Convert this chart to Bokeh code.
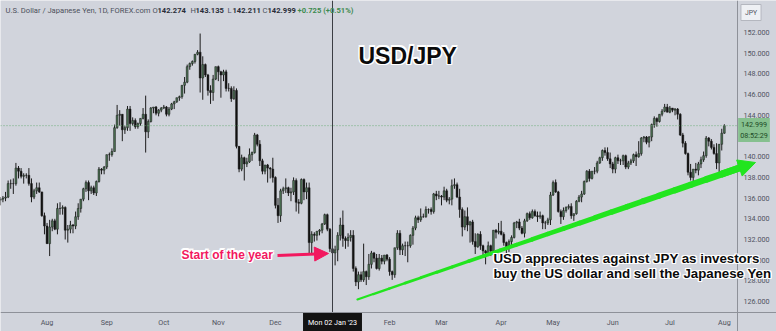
import pandas as pd
from bokeh.plotting import figure
from bokeh.models import (Range1d, FixedTicker, NumeralTickFormatter, Label,
                          Arrow, NormalHead, ColumnDataSource)
from bokeh.embed import file_html
from bokeh.resources import INLINE

# ---------------- data (daily bars, USD/JPY) ----------------
dates = pd.bdate_range("2022-07-06", "2023-08-01")

opens = [
    # Jul 2022
    135.8, 135.9, 136.0, 136.1, 137.4, 137.4, 137.4, 138.9, 138.6, 138.1, 138.2, 138.2, 137.4, 136.1, 136.7, 137.0, 136.6, 134.3,
    # Aug 2022
    133.3, 131.6, 133.2, 133.8, 133.0, 135.0, 135.0, 135.1, 132.9, 133.0, 133.4, 133.3, 134.2, 135.0, 135.9, 136.9, 137.5, 136.7, 137.0, 136.5, 137.6, 138.8, 138.7,
    # Sep 2022
    139.0, 140.2, 140.2, 140.5, 142.8, 144.0, 144.1, 142.6, 142.8, 144.6, 143.2, 143.5, 142.9, 143.2, 143.7, 144.1, 142.4, 143.4, 144.7, 144.8, 144.2, 144.5,
    # Oct 2022
    144.7, 144.8, 144.1, 144.6, 145.1, 145.3, 145.7, 145.8, 146.9, 147.2, 148.7, 149.0, 149.2, 149.9, 150.1, 147.6, 148.9, 147.9, 146.4, 146.2, 147.5,
    # Nov 2022
    148.7, 148.2, 147.9, 148.2, 146.6, 146.6, 145.6, 146.4, 141.0, 138.8, 139.9, 139.3, 139.5, 140.2, 140.4, 142.1, 141.2, 139.6, 138.6, 139.2, 138.9, 138.8,
    # Dec 2022
    138.0, 135.3, 134.3, 136.7, 136.9, 137.0, 136.5, 136.6, 137.7, 135.6, 135.5, 137.8, 136.6, 137.0, 131.7, 132.5, 132.4, 132.8, 132.9, 133.5, 134.4, 133.0,
    # Jan 2023
    131.1, 130.7, 131.0, 132.4, 133.4, 132.1, 131.9, 132.2, 132.4, 129.2, 127.9, 128.6, 128.1, 128.9, 128.4, 129.6, 130.7, 130.2, 129.2, 130.2, 129.9, 130.5,
    # Feb 2023
    130.1, 128.9, 128.6, 131.2, 132.6, 131.0, 131.4, 131.4, 131.4, 132.4, 133.1, 134.1, 133.9, 134.2, 134.2, 134.9, 134.9, 134.7, 136.4, 136.2,
    # Mar 2023
    136.2, 136.1, 136.7, 135.8, 135.9, 137.2, 137.3, 136.1, 134.9, 133.2, 134.2, 133.4, 133.7, 131.8, 131.3, 132.5, 131.4, 130.9, 130.7, 131.4, 130.9, 132.9, 132.7,
    # Apr 2023
    132.8, 132.5, 131.7, 131.3, 131.8, 132.2, 133.6, 133.7, 133.1, 132.6, 133.8, 134.5, 134.1, 134.7, 134.3, 134.2, 134.3, 133.6, 133.6, 133.9,
    # May 2023
    136.3, 137.5, 136.6, 134.7, 134.2, 134.8, 135.1, 135.2, 134.3, 134.5, 135.7, 136.1, 136.4, 137.6, 138.6, 137.9, 138.6, 138.6, 139.4, 139.9, 140.6, 140.4, 139.8,
    # Jun 2023
    139.3, 138.8, 139.9, 139.6, 139.6, 140.1, 139.0, 139.4, 139.6, 140.2, 140.0, 140.3, 141.8, 141.9, 141.4, 141.9, 143.1, 143.7, 143.4, 144.1, 144.4, 144.8,
    # Jul 2023
    144.3, 144.7, 144.5, 144.6, 144.1, 142.1, 141.3, 140.3, 138.5, 138.0, 138.8, 138.7, 139.3, 139.7, 140.1, 141.8, 141.5, 140.9, 140.3, 139.4, 141.2,
    # Aug 2023
    142.274,
]

highs = [
    136.1, 136.2, 136.6, 137.7, 137.8, 137.9, 139.4, 139.1, 138.9, 138.4, 138.4, 138.9, 137.9, 136.9, 137.5, 137.5, 136.6, 134.6,
    133.6, 133.9, 134.0, 134.0, 135.5, 135.6, 135.3, 135.2, 133.4, 133.8, 133.5, 134.7, 135.5, 135.9, 137.0, 137.7, 137.7, 137.2, 137.2, 137.7, 139.0, 138.9, 139.1,
    140.2, 140.4, 140.8, 143.1, 145.0, 144.5, 144.1, 143.0, 144.9, 144.9, 143.8, 143.7, 143.3, 143.7, 144.7, 145.9, 143.6, 144.8, 144.8, 144.9, 144.6, 144.8,
    145.0, 144.9, 144.8, 145.2, 145.4, 145.7, 145.9, 146.9, 147.7, 148.9, 149.1, 149.3, 149.9, 150.3, 151.9, 149.7, 149.0, 148.0, 146.9, 147.9, 148.7,
    148.8, 148.3, 148.4, 148.4, 147.1, 146.8, 146.8, 146.6, 141.0, 140.2, 140.0, 139.9, 140.8, 140.5, 142.3, 142.2, 141.6, 139.8, 139.2, 139.3, 139.0, 139.9,
    138.1, 136.0, 136.9, 137.1, 137.9, 137.1, 137.0, 138.0, 137.9, 135.9, 137.9, 137.9, 137.5, 137.5, 132.8, 132.7, 132.8, 133.0, 133.6, 134.5, 134.5, 133.1,
    131.4, 131.4, 132.7, 134.1, 134.8, 132.3, 132.6, 132.9, 132.9, 129.4, 128.9, 128.9, 131.6, 129.0, 130.6, 130.9, 130.8, 130.6, 130.6, 130.5, 130.5, 130.6,
    130.3, 129.0, 131.2, 132.9, 132.9, 131.6, 131.8, 131.8, 132.5, 133.3, 134.3, 134.3, 135.0, 134.5, 135.2, 135.0, 135.1, 136.5, 136.7, 136.7,
    136.3, 137.1, 136.9, 136.1, 137.8, 137.9, 137.5, 136.9, 135.1, 134.8, 135.1, 133.8, 133.9, 132.6, 132.6, 132.8, 131.5, 131.0, 131.8, 131.5, 132.9, 133.0, 133.6,
    133.8, 132.7, 131.8, 132.0, 132.4, 133.7, 133.8, 134.0, 133.3, 134.0, 134.6, 134.7, 134.9, 134.9, 134.7, 134.7, 134.4, 133.8, 134.1, 136.6,
    137.7, 137.8, 136.7, 134.9, 135.1, 135.2, 135.4, 135.5, 134.5, 135.8, 136.3, 136.7, 137.7, 138.7, 138.8, 138.6, 139.0, 139.6, 140.0, 140.7, 140.9, 140.9, 140.4,
    139.5, 140.0, 140.2, 139.8, 140.2, 140.2, 139.6, 139.8, 140.3, 140.5, 141.5, 141.9, 142.0, 142.0, 142.0, 143.2, 143.9, 143.8, 144.1, 144.6, 145.1, 145.1,
    144.9, 144.7, 144.7, 144.7, 144.2, 142.3, 141.5, 140.4, 139.3, 138.8, 139.4, 139.5, 140.0, 140.5, 142.0, 141.9, 141.7, 141.2, 141.3, 141.2, 142.7,
    143.135,
]

lows = [
    135.3, 135.6, 135.7, 136.0, 136.9, 136.4, 137.2, 137.9, 137.9, 137.4, 137.9, 137.2, 135.6, 135.9, 136.4, 136.5, 134.2, 132.5,
    131.6, 130.4, 132.8, 132.9, 132.5, 134.4, 134.4, 132.0, 131.7, 132.6, 132.6, 133.0, 133.9, 134.6, 135.7, 136.6, 135.8, 136.4, 136.3, 136.2, 137.5, 138.3, 138.3,
    138.8, 139.6, 140.0, 140.5, 142.7, 143.0, 141.5, 142.2, 142.5, 142.5, 143.0, 142.7, 142.7, 143.0, 143.6, 140.4, 141.8, 143.3, 144.2, 144.0, 143.9, 144.3,
    144.6, 143.9, 143.9, 144.5, 144.6, 145.2, 145.4, 145.6, 146.1, 147.1, 148.4, 148.8, 149.0, 149.8, 146.2, 145.5, 147.7, 145.9, 145.1, 145.4, 147.4,
    147.3, 145.7, 147.3, 146.3, 146.3, 145.3, 145.5, 140.8, 138.5, 138.6, 137.7, 139.0, 139.4, 139.6, 140.3, 141.0, 139.1, 138.3, 138.3, 137.5, 137.9, 137.5,
    135.0, 133.6, 133.7, 136.4, 136.5, 136.2, 135.7, 136.3, 134.7, 134.5, 135.4, 135.8, 135.9, 130.6, 130.6, 131.8, 131.9, 132.4, 132.6, 133.4, 132.8, 130.8,
    130.1, 129.5, 129.9, 131.9, 131.3, 131.1, 131.3, 131.8, 128.9, 127.5, 127.2, 127.9, 127.9, 127.6, 128.1, 129.2, 129.8, 129.1, 129.0, 129.6, 129.6, 129.9,
    128.5, 128.1, 128.3, 131.0, 130.5, 130.5, 130.4, 129.8, 131.2, 131.5, 132.9, 133.6, 133.7, 134.1, 134.1, 134.5, 134.4, 134.5, 135.8, 135.9,
    135.3, 135.8, 135.6, 135.4, 135.3, 136.9, 136.0, 134.1, 132.3, 132.9, 132.8, 131.7, 131.5, 130.6, 131.2, 131.0, 130.4, 129.6, 130.4, 130.4, 130.7, 132.1, 132.5,
    132.4, 131.4, 130.6, 130.8, 131.2, 132.1, 133.1, 132.9, 132.5, 132.2, 133.7, 133.9, 134.0, 134.2, 133.7, 134.0, 133.0, 133.0, 133.4, 133.4,
    136.2, 136.5, 134.6, 133.5, 133.9, 134.6, 134.9, 134.0, 133.8, 134.4, 135.6, 135.6, 136.3, 137.5, 137.6, 137.8, 138.3, 138.4, 139.3, 139.6, 140.1, 139.6, 138.9,
    138.4, 138.4, 139.3, 139.2, 139.2, 138.8, 138.8, 139.2, 139.4, 139.1, 139.9, 140.1, 141.4, 141.2, 140.9, 141.5, 142.8, 142.9, 143.3, 143.9, 144.3, 144.3,
    144.2, 144.3, 144.0, 143.6, 142.0, 140.9, 140.2, 138.2, 137.7, 137.2, 138.4, 138.2, 138.9, 139.5, 139.9, 141.0, 140.7, 140.2, 138.8, 138.1, 140.6,
    142.211,
]

closes = [
    135.9, 136.0, 136.1, 137.4, 137.4, 137.4, 138.9, 138.6, 138.1, 138.2, 138.2, 137.4, 136.1, 136.7, 137.0, 136.6, 134.3, 133.3,
    131.6, 133.2, 133.8, 133.0, 135.0, 135.0, 135.1, 132.9, 133.0, 133.4, 133.3, 134.2, 135.0, 135.9, 136.9, 137.5, 136.7, 137.0, 136.5, 137.6, 138.8, 138.7, 139.0,
    140.2, 140.2, 140.5, 142.8, 144.0, 144.1, 142.6, 142.8, 144.6, 143.2, 143.5, 142.9, 143.2, 143.7, 144.1, 142.4, 143.4, 144.7, 144.8, 144.2, 144.5, 144.7,
    144.8, 144.1, 144.6, 145.1, 145.3, 145.7, 145.8, 146.9, 147.2, 148.7, 149.0, 149.2, 149.9, 150.1, 147.6, 148.9, 147.9, 146.4, 146.2, 147.5, 148.7,
    148.2, 147.9, 148.2, 146.6, 146.6, 145.6, 146.4, 141.0, 138.8, 139.9, 139.3, 139.5, 140.2, 140.4, 142.1, 141.2, 139.6, 138.6, 139.2, 138.9, 138.8, 138.0,
    135.3, 134.3, 136.7, 136.9, 137.0, 136.5, 136.6, 137.7, 135.6, 135.5, 137.8, 136.6, 137.0, 131.7, 132.5, 132.4, 132.8, 132.9, 133.5, 134.4, 133.0, 131.1,
    130.7, 131.0, 132.4, 133.4, 132.1, 131.9, 132.2, 132.4, 129.2, 127.9, 128.6, 128.1, 128.9, 128.4, 129.6, 130.7, 130.2, 129.2, 130.2, 129.9, 130.5, 130.1,
    128.9, 128.6, 131.2, 132.6, 131.0, 131.4, 131.4, 131.4, 132.4, 133.1, 134.1, 133.9, 134.2, 134.2, 134.9, 134.9, 134.7, 136.4, 136.2, 136.2,
    136.1, 136.7, 135.8, 135.9, 137.2, 137.3, 136.1, 134.9, 133.2, 134.2, 133.4, 133.7, 131.8, 131.3, 132.5, 131.4, 130.9, 130.7, 131.4, 130.9, 132.9, 132.7, 132.8,
    132.5, 131.7, 131.3, 131.8, 132.2, 133.6, 133.7, 133.1, 132.6, 133.8, 134.5, 134.1, 134.7, 134.3, 134.2, 134.3, 133.6, 133.6, 133.9, 136.3,
    137.5, 136.6, 134.7, 134.2, 134.8, 135.1, 135.2, 134.3, 134.5, 135.7, 136.1, 136.4, 137.6, 138.6, 137.9, 138.6, 138.6, 139.4, 139.9, 140.6, 140.4, 139.8, 139.3,
    138.8, 139.9, 139.6, 139.6, 140.1, 139.0, 139.4, 139.6, 140.2, 140.0, 140.3, 141.8, 141.9, 141.4, 141.9, 143.1, 143.7, 143.4, 144.1, 144.4, 144.8, 144.3,
    144.7, 144.5, 144.6, 144.1, 142.1, 141.3, 140.3, 138.5, 138.0, 138.8, 138.7, 139.3, 139.7, 140.1, 141.8, 141.5, 140.9, 140.3, 139.4, 141.2, 142.274,
    142.999,
]

month_labels = ["Aug", "Sep", "Oct", "Nov", "Dec", "2023", "Feb", "Mar", "Apr", "May", "Jun", "Jul", "Aug"]
price_ticks = [126, 128, 130, 132, 134, 136, 138, 140, 142, 144, 146, 148, 150, 152]

# annotation anchors (bar index, price)
trend_start = (137.6, 126.2)
trend_tip = (291.0, 139.44)

assert len(dates) == len(opens) == len(highs) == len(lows) == len(closes)

# ---------------- layout constants ----------------
BG = "#d1d4dc"
W, H = 776, 331
PANE_W, PANE_H = 737, 312          # chart pane; price/time scales sit beyond it
PX_BAR, PX_PRICE = 2.595, 10.35
jan2 = list(dates).index(pd.Timestamp("2023-01-02"))
x0 = jan2 - 332 / PX_BAR
x1 = x0 + W / PX_BAR
y1 = 152 + 32 / PX_PRICE
y0 = y1 - H / PX_PRICE


def px_x(X):
    return x0 + X / PX_BAR


def px_y(Y):
    return y1 - Y / PX_PRICE


p = figure(width=W, height=H, x_range=Range1d(x0, x1), y_range=Range1d(y0, y1),
           output_backend="svg", toolbar_location=None, y_axis_location="right",
           min_border=0, background_fill_color=BG, border_fill_color=BG)
p.outline_line_color = None
p.xgrid.visible = False
p.ygrid.visible = False

# ---------------- candles ----------------
xs = list(range(len(dates)))
up = [c >= o for o, c in zip(opens, closes)]
src = ColumnDataSource(dict(
    x=xs, high=highs, low=lows,
    top=[max(o, c) for o, c in zip(opens, closes)],
    bottom=[min(o, c) for o, c in zip(opens, closes)],
    color=["#4b7153" if u else "#111111" for u in up],
))
p.segment(x0="x", y0="low", x1="x", y1="high", source=src, line_color="#1c1c1c", line_width=1)
p.vbar(x="x", width=0.72, top="top", bottom="bottom", source=src,
       fill_color="color", line_color="#1c1c1c", line_width=0.5)

# last price dotted line (pane only) & crosshair
p.segment(x0=[px_x(0)], y0=[closes[-1]], x1=[px_x(PANE_W)], y1=[closes[-1]],
          line_color="#6fae7a", line_dash="1 2", line_width=1)
p.segment(x0=[jan2], y0=[px_y(PANE_H)], x1=[jan2], y1=[px_y(0)],
          line_color="#3c3e44", line_width=1)

# ---------------- green trend arrow (tapered) ----------------
N = 24
tx, ty = trend_start
slope = (trend_tip[1] - ty) / (trend_tip[0] - tx)
ex = px_x(738)
ey = ty + slope * (ex - tx)
seg = dict(x0=[], y0=[], x1=[], y1=[], w=[])
for k in range(N):
    a, b = k / N, (k + 1) / N
    seg["x0"].append(tx + (ex - tx) * a)
    seg["y0"].append(ty + (ey - ty) * a)
    seg["x1"].append(tx + (ex - tx) * b)
    seg["y1"].append(ty + (ey - ty) * b)
    seg["w"].append(2.0 + 5.0 * (a + b) / 2)
p.segment(x0="x0", y0="y0", x1="x1", y1="y1", line_width="w", line_color="#22e51e",
          line_cap="round", source=ColumnDataSource(seg))
ax = px_x(720)
ay = ty + slope * (ax - tx)
p.add_layout(Arrow(x_start=ax, y_start=ay, x_end=trend_tip[0], y_end=trend_tip[1],
                   line_color="#22e51e", line_width=7,
                   end=NormalHead(size=17, fill_color="#22e51e", line_color="#22e51e", line_width=1)))

# ---------------- pink arrow ----------------
PINK = "#f2185f"
p.add_layout(Arrow(x_start=px_x(277), y_start=px_y(255), x_end=px_x(328), y_end=px_y(253),
                   line_color=PINK, line_width=3,
                   end=NormalHead(size=14, fill_color=PINK, line_color=PINK, line_width=1)))


def halo(X, Y, text, size, color, font="Liberation Sans", r=1.2):
    for dx, dy in [(-r, 0), (r, 0), (0, -r), (0, r), (-r, -r), (r, r), (-r, r), (r, -r)]:
        p.add_layout(Label(x=px_x(X), y=px_y(Y), text=text, x_offset=dx, y_offset=dy,
                           text_color="white", text_font=font, text_font_size=size,
                           text_font_style="bold", text_baseline="middle", text_align="left"))
    p.add_layout(Label(x=px_x(X), y=px_y(Y), text=text, text_color=color, text_font=font,
                       text_font_size=size, text_font_style="bold", text_baseline="middle",
                       text_align="left"))


halo(358, 55, "USD/JPY", "23px", "#0b0b0b")
halo(181, 254, "Start of the year", "12px", PINK)
halo(493, 258, "USD appreciates against JPY as investors", "13.3px", "#0b0b0b")
halo(493, 273, "buy the US dollar and sell the Japanese Yen", "13.3px", "#0b0b0b")

# ---------------- header ----------------
HF = "Roboto"
HS = "7.6px"


def hlabel(X, text, color, style="normal"):
    p.add_layout(Label(x=px_x(X), y=px_y(10), text=text, text_color=color, text_font=HF,
                       text_font_size=HS, text_font_style=style, text_baseline="middle"))


hlabel(5, "U.S. Dollar / Japanese Yen, 1D, FOREX.com", "#4c505b")
chg = closes[-1] - opens[-1]
pct = chg / opens[-1] * 100
for X, letter, val in [(152, "O", opens[-1]), (190, "H", highs[-1]), (227, "L", lows[-1]), (262, "C", closes[-1])]:
    hlabel(X, letter, "#4c505b")
    hlabel(X + 5, f"{val:.3f}", "#2a2e39", "bold")
hlabel(297, f"{chg:+.3f} ({pct:+.2f}%)", "#3d8a4f", "bold")

# ---------------- axes (price scale and time scale drawn at the pane edges) ----------------
month_idx = [i for i in range(1, len(dates)) if dates[i].month != dates[i - 1].month]
p.xaxis.ticker = FixedTicker(ticks=month_idx)
p.xaxis.major_label_overrides = {i: lab for i, lab in zip(month_idx, month_labels)}
p.yaxis.ticker = FixedTicker(ticks=price_ticks)
p.yaxis.formatter = NumeralTickFormatter(format="0.000")
p.yaxis.fixed_location = px_x(PANE_W)
p.xaxis.fixed_location = px_y(PANE_H)
for axis in (p.xaxis, p.yaxis):
    axis.major_tick_line_color = None
    axis.minor_tick_line_color = None
    axis.major_tick_out = 0
    axis.major_tick_in = 0
    axis.minor_tick_out = 0
    axis.axis_line_color = "#8e9199"
    axis.major_label_text_font = HF
    axis.major_label_text_font_size = "7.2px"
    axis.major_label_text_color = "#50535e"
p.yaxis.major_label_standoff = 6
p.xaxis.major_label_standoff = 5

# crosshair time label
p.add_layout(Label(x=jan2, y=px_y(322), text="Mon 02 Jan '23", text_color="white",
                   text_font=HF, text_font_size="7.2px", text_align="center",
                   text_baseline="middle", background_fill_color="#131313", padding=5))
# JPY box
p.add_layout(Label(x=px_x(750.5), y=px_y(12), text="JPY", text_color="#50535e",
                   text_font=HF, text_font_size="6.8px", text_align="center",
                   text_baseline="middle", background_fill_color="#eef0f4",
                   border_line_color="#b4b7bf", padding=4))
# last price box
p.add_layout(Label(x=px_x(753.5), y=px_y(129.5), text=f"{closes[-1]:.3f}\n08:52:29",
                   text_color="#1d4a25", text_font=HF, text_font_size="7.2px",
                   text_align="center", text_baseline="middle",
                   background_fill_color="#86c08f", padding=2))

open("out.html", "w").write(file_html(p, INLINE))
